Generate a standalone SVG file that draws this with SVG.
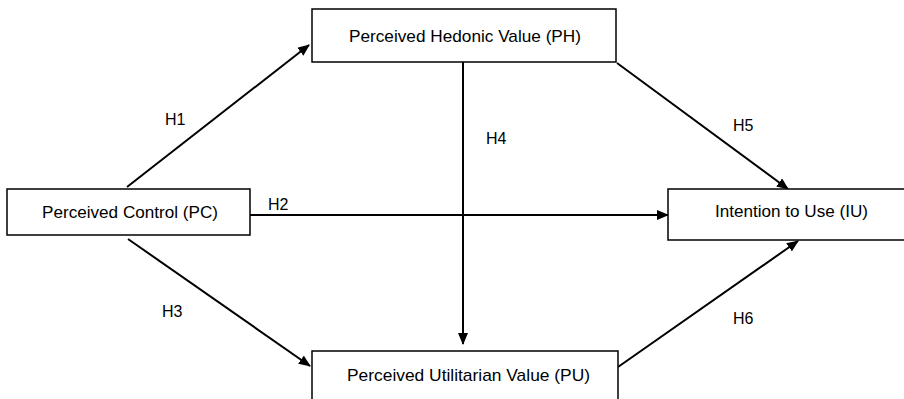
<svg xmlns="http://www.w3.org/2000/svg" width="904" height="399" viewBox="0 0 904 399">
<style>
.box{fill:#fff;stroke:#000;stroke-width:1.5}
.t{font-family:"Liberation Sans",Arial,sans-serif;font-size:17px;fill:#000}
.lbl{font-family:"Liberation Sans",Arial,sans-serif;font-size:16px;fill:#000}
.c{stroke:#000;stroke-width:2;fill:none;marker-end:url(#ah)}
</style>
<defs>
<marker id="ah" markerUnits="userSpaceOnUse" markerWidth="12" markerHeight="10" refX="11" refY="5" orient="auto">
<path d="M0,0 L12,5 L0,10 z" fill="#000"/>
</marker>
</defs>
<rect width="904" height="399" fill="#fff"/>
<g id="connectors">
<line class="c" x1="127" y1="187" x2="309" y2="45"/>
<line class="c" x1="250" y1="215" x2="668" y2="215"/>
<line class="c" x1="128" y1="239" x2="310" y2="366"/>
<line class="c" x1="463" y1="62" x2="463" y2="344"/>
<line class="c" x1="617" y1="63" x2="788" y2="189"/>
<line class="c" x1="618" y1="367" x2="798" y2="241"/>
<text class="lbl" x="165" y="125">H1</text>
<text class="lbl" x="268" y="210">H2</text>
<text class="lbl" x="162" y="317">H3</text>
<text class="lbl" x="486" y="144">H4</text>
<text class="lbl" x="733" y="131">H5</text>
<text class="lbl" x="733" y="324">H6</text>
</g>
<g id="PH">
<rect class="box" x="312" y="9" width="304" height="53"/>
<text class="t" x="349" y="42" textLength="232" lengthAdjust="spacingAndGlyphs">Perceived Hedonic Value (PH)</text>
</g>
<g id="PC">
<rect class="box" x="7" y="189" width="243" height="46"/>
<text class="t" x="42" y="218" textLength="176" lengthAdjust="spacingAndGlyphs">Perceived Control (PC)</text>
</g>
<g id="IU">
<rect class="box" x="668" y="189" width="250" height="51"/>
<text class="t" x="715" y="217" textLength="153" lengthAdjust="spacingAndGlyphs">Intention to Use (IU)</text>
</g>
<g id="PU">
<rect class="box" x="312" y="351" width="306" height="60"/>
<text class="t" x="347" y="381" textLength="243" lengthAdjust="spacingAndGlyphs">Perceived Utilitarian Value (PU)</text>
</g>
</svg>
